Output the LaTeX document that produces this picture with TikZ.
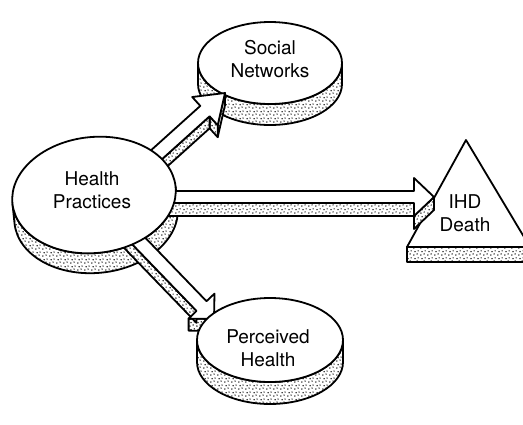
\documentclass[tikz,border=0pt]{standalone}
\usepackage{fontspec}
\setsansfont{TeX Gyre Heros}
\usetikzlibrary{patterns}
\pgfdeclarepatternformonly{stipple}{\pgfpointorigin}{\pgfqpoint{7pt}{7pt}}{\pgfqpoint{7pt}{7pt}}{%
  \pgfpathcircle{\pgfqpoint{1pt}{1pt}}{0.85pt}%
  \pgfpathcircle{\pgfqpoint{4.6pt}{2.2pt}}{0.8pt}%
  \pgfpathcircle{\pgfqpoint{2.3pt}{4.8pt}}{0.85pt}%
  \pgfpathcircle{\pgfqpoint{5.8pt}{5.6pt}}{0.75pt}%
  \pgfusepath{fill}}
\tikzset{
  stippled/.style={preaction={fill=white}, pattern=stipple, draw=black, line width=1.8pt, line join=round},
  topface/.style={fill=white, draw=black, line width=1.8pt, line join=round},
  lbl/.style={align=center, font=\sffamily\fontsize{19}{22.5}\selectfont, inner sep=0pt}
}
\newcommand{\cylside}[5]{%
  \draw[stippled] (#1-#3,#2) -- (#1-#3,#2+#5)
    arc[start angle=180, end angle=0, x radius=#3, y radius=#4]
    -- (#1+#3,#2)
    arc[start angle=0, end angle=180, x radius=#3, y radius=#4] -- cycle;}
\newcommand{\cyltop}[4]{\draw[topface] (#1,#2) ellipse[x radius=#3, y radius=#4];}
\begin{document}
\begin{tikzpicture}[x=1pt, y=-1pt]
\useasboundingbox (0,0) rectangle (523,424);

% Social Networks disk
\cylside{270}{63}{72}{41}{21}
\cyltop{270}{63}{72}{41}

% IHD triangle
\draw[stippled] (407,247) rectangle (530,262);
\draw[topface] (466,140) -- (530,247) -- (407,247) -- cycle;

% Health Practices side
\begin{scope}[rotate around={6:(94,195)}]
  \cylside{94}{195}{82}{58}{20}
\end{scope}

% Arrow to Social Networks
\draw[stippled] (225,93) -- (217.7,125.2) -- (217.7,137.2) -- (225,105) -- cycle;
\draw[stippled] (217.7,125.2) -- (209.6,116.3) -- (209.6,128.3) -- (217.7,137.2) -- cycle;
\draw[stippled] (209.6,116.3) -- (127.9,189.9) -- (127.9,201.9) -- (209.6,128.3) -- cycle;
\draw[topface] (118.5,179.5) -- (200.3,105.9) -- (192.2,97) -- (225,93) -- (217.7,125.2) -- (209.6,116.3) -- (127.9,189.9) -- cycle;

% Arrow to IHD Death
\draw[stippled] (434,197) -- (414,216) -- (414,229) -- (434,210) -- cycle;
\draw[stippled] (414,203) -- (150,203) -- (150,216) -- (414,216) -- cycle;
\draw[topface] (150,191) -- (414,191) -- (414,178) -- (434,197) -- (414,216) -- (414,203) -- (150,203) -- cycle;

% Arrow to Perceived Health
\draw[stippled] (214,319) -- (188.6,318.6) -- (188.6,330.6) -- (214,331) -- cycle;
\draw[stippled] (196.5,310.9) -- (120.1,231.8) -- (120.1,243.8) -- (196.5,322.9) -- cycle;
\draw[topface] (130.1,222) -- (206.5,301.2) -- (214.5,293.6) -- (214,319) -- (188.6,318.6) -- (196.5,310.9) -- (120.1,231.8) -- cycle;

% Perceived Health disk
\cylside{270}{340}{73}{42}{22}
\cyltop{270}{340}{73}{42}

% Health Practices top
\begin{scope}[rotate around={6:(94,195)}]
  \cyltop{94}{195}{82}{58}
\end{scope}

% Labels
\node[lbl] (hp) at (92,190) {Health\\Practices};
\node[lbl] (sn) at (270,59) {Social\\Networks};
\node[lbl] (ph) at (268,348) {Perceived\\Health};
\node[lbl] (ihd) at (465,213) {IHD\\Death};
\end{tikzpicture}
\end{document}
